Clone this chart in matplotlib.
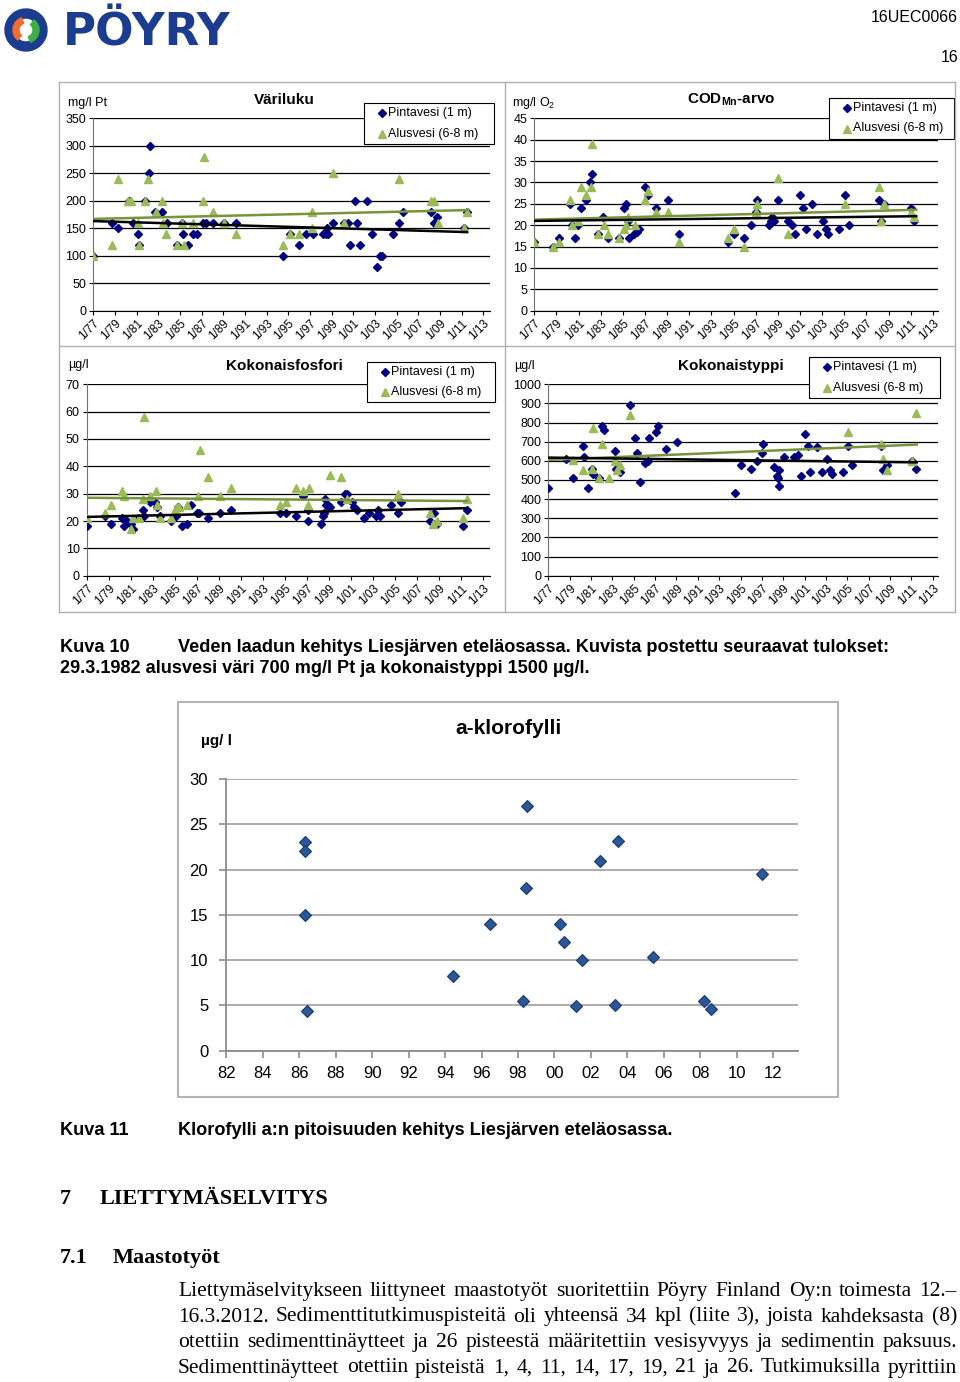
import numpy as np
import matplotlib
matplotlib.use('Agg')
import matplotlib.pyplot as plt
import matplotlib.font_manager as fm
from matplotlib.lines import Line2D
from matplotlib.patches import Wedge, Rectangle

W, H = 960, 1382

# ---------------- data ----------------
# Väriluku (mg/l Pt)
vari_pinta_x = [1977.0, 1978.69, 1979.31, 1980.29, 1980.69, 1981.09, 1981.25, 1981.77, 1982.17, 1982.23,
                1982.69, 1983.31, 1983.77, 1984.69, 1985.15, 1985.25, 1985.71, 1986.17, 1986.54, 1987.15,
                1987.37, 1988.08, 1989.09, 1990.14, 1994.54, 1995.15, 1996.02, 1996.63, 1997.25, 1998.23,
                1998.45, 1998.54, 1998.69, 1999.09, 2000.14, 2000.54, 2000.69, 2001.15, 2001.37, 2001.62,
                2002.23, 2002.69, 2003.22, 2003.46, 2003.68, 2004.69, 2005.22, 2005.62, 2008.17, 2008.45,
                2008.78, 2011.22, 2011.52]
vari_pinta_y = [100, 160, 150, 200, 160, 140, 120, 200, 250, 300,
                180, 180, 160, 120, 160, 140, 120, 140, 140, 160,
                160, 160, 160, 160, 100, 140, 120, 140, 140, 140,
                140, 150, 140, 160, 160, 160, 120, 200, 160, 120,
                200, 140, 80, 100, 100, 140, 160, 180, 180, 160,
                170, 150, 180]
vari_alus_x = [1977.0, 1978.69, 1979.31, 1980.23, 1980.46, 1981.09, 1981.25, 1981.77, 1982.08, 1982.78,
               1983.31, 1983.4, 1983.71, 1984.69, 1985.15, 1985.37, 1986.17, 1987.15, 1987.22, 1988.08,
               1989.09, 1990.14, 1994.54, 1995.15, 1996.02, 1997.15, 1997.22, 1999.09, 2000.14, 2005.22,
               2008.17, 2008.45, 2008.83, 2011.22, 2011.52]
vari_alus_y = [100, 120, 240, 200, 200, 160, 120, 200, 240, 180,
               200, 160, 140, 120, 160, 120, 160, 200, 280, 180,
               160, 140, 120, 140, 140, 150, 180, 250, 160, 240,
               200, 200, 160, 150, 180]
vari_trend_pinta = [163, 143]
vari_trend_alus = [167, 183]

# CODMn-arvo (mg/l O2)
cod_pinta_x = [1977.0, 1978.66, 1979.23, 1980.25, 1980.43, 1980.67, 1980.98, 1981.22, 1981.67, 1982.03,
               1982.24, 1982.72, 1983.23, 1983.69, 1984.65, 1985.07, 1985.25, 1985.43, 1985.58, 1986.04,
               1986.25, 1986.49, 1987.03, 1987.24, 1987.99, 1989.05, 1990.04, 1994.47, 1995.07, 1995.92,
               1996.55, 1997.0, 1997.09, 1998.2, 1998.36, 1998.45, 1998.63, 1999.05, 1999.95, 2000.25,
               2000.55, 2001.0, 2001.25, 2001.52, 2002.12, 2002.51, 2003.11, 2003.36, 2003.51, 2004.56,
               2005.1, 2005.46, 2008.11, 2008.33, 2008.63, 2011.0, 2011.33]
cod_pinta_y = [16, 15, 17, 25, 20, 17, 20, 24, 26, 30,
               32, 18, 22, 17, 17, 24, 25, 21, 17, 18,
               18.5, 19, 29, 27, 24, 26, 18, 16, 18, 17,
               20, 23, 26, 20, 21, 22, 21, 26, 21, 20,
               18, 27, 24, 19, 25, 18, 21, 19, 18, 19,
               27, 20, 26, 21, 25, 24, 21]
cod_alus_x = [1977.0, 1978.66, 1979.23, 1980.25, 1980.43, 1980.98, 1981.22, 1981.67, 1982.09, 1982.24,
              1982.72, 1983.29, 1983.69, 1984.65, 1985.1, 1985.25, 1985.43, 1986.1, 1987.03, 1987.24,
              1987.99, 1989.11, 1990.04, 1994.47, 1995.07, 1995.92, 1997.0, 1997.09, 1999.05, 1999.95,
              2005.1, 2008.11, 2008.33, 2008.63, 2011.0, 2011.33]
cod_alus_y = [16, 15, 16, 26, 20, 21, 29, 27, 29, 39,
              18, 20, 18, 17, 19, 20, 22, 20, 26, 28,
              23, 23, 16, 17, 19, 15, 23, 25, 31, 18,
              25, 29, 21, 25, 23, 22]
cod_trend_pinta = [21.0, 22.1]
cod_trend_alus = [21.3, 23.6]

# Kokonaisfosfori (µg/l)
p_pinta_x = [1977.0, 1978.66, 1979.21, 1980.18, 1980.39, 1980.69, 1980.99, 1981.23, 1981.69, 1982.08,
             1982.2, 1982.75, 1983.2, 1983.35, 1983.65, 1984.65, 1985.11, 1985.32, 1985.62, 1986.07,
             1986.47, 1986.98, 1987.22, 1988.04, 1989.1, 1990.1, 1994.54, 1995.09, 1995.97, 1996.63,
             1997.05, 1997.11, 1998.23, 1998.42, 1998.57, 1998.63, 1998.69, 1998.93, 1999.08, 2000.08,
             2000.44, 2000.65, 2001.05, 2001.26, 2001.5, 2002.17, 2002.65, 2003.26, 2003.41, 2003.62,
             2004.62, 2005.22, 2005.52, 2008.16, 2008.52, 2008.76, 2011.18, 2011.48]
p_pinta_y = [18, 22, 19, 21, 18, 20, 19, 17, 21, 24,
             22, 27, 27, 25, 22, 20, 22, 25, 18, 19,
             26, 23, 23, 21, 23, 24, 23, 23, 22, 29,
             20, 24, 19, 22, 23, 28, 26, 26, 25, 27,
             30, 30, 27, 25, 24, 21, 23, 22, 24, 22,
             26, 23, 27, 20, 23, 19, 18, 24]
p_alus_x = [1977.0, 1978.66, 1979.21, 1980.24, 1980.42, 1981.02, 1981.23, 1981.75, 1982.08, 1982.2,
            1982.75, 1983.26, 1983.35, 1983.65, 1984.65, 1985.02, 1985.17, 1985.41, 1986.07, 1987.08,
            1987.29, 1988.04, 1989.1, 1990.1, 1994.54, 1995.09, 1995.97, 1996.6, 1997.05, 1997.14,
            1999.08, 2000.08, 2000.65, 2005.22, 2008.16, 2008.46, 2008.76, 2011.18, 2011.48]
p_alus_y = [21, 23, 26, 31, 29, 17, 21, 21, 28, 58,
            29, 31, 26, 21, 21, 24, 25, 25, 26, 29,
            46, 36, 29, 32, 26, 27, 32, 31, 26, 32,
            37, 36, 28, 30, 23, 19, 20, 21, 28]
p_trend_pinta = [21.5, 24.7]
p_trend_alus = [28.5, 27.3]

# Kokonaistyppi (µg/l)
n_pinta_x = [1977.0, 1978.65, 1979.28, 1980.28, 1980.37, 1980.68, 1981.06, 1981.21, 1981.75, 1982.06,
             1982.21, 1983.28, 1983.34, 1983.71, 1984.65, 1985.12, 1985.27, 1985.59, 1986.05, 1986.37,
             1986.43, 1987.05, 1987.24, 1988.02, 1989.08, 1994.48, 1995.05, 1995.98, 1996.58, 1996.98,
             1997.07, 1998.1, 1998.39, 1998.48, 1998.6, 1998.64, 1999.04, 2000.01, 2000.42, 2000.63,
             2001.04, 2001.32, 2001.51, 2002.2, 2002.6, 2003.07, 2003.38, 2003.54, 2004.57, 2005.1,
             2005.47, 2008.13, 2008.31, 2008.69, 2011.09, 2011.41]
n_pinta_y = [460, 610, 510, 680, 620, 460, 560, 530, 510, 780,
             760, 650, 560, 540, 890, 720, 640, 490, 590, 600,
             720, 750, 780, 660, 700, 430, 580, 560, 600, 640,
             690, 570, 520, 510, 550, 470, 620, 620, 630, 520,
             740, 680, 540, 670, 540, 610, 550, 530, 540, 680,
             580, 680, 550, 580, 600, 560]
n_alus_x = [1979.28, 1980.28, 1981.06, 1981.21, 1981.75, 1982.06, 1982.71, 1983.28, 1983.41, 1983.71,
            1984.65, 2005.1, 2008.13, 2008.31, 2008.69, 2011.09, 2011.41]
n_alus_y = [605, 550, 560, 770, 510, 690, 510, 600, 550, 580,
            840, 750, 690, 610, 550, 600, 850]
n_trend_pinta = [617, 592]
n_trend_alus = [605, 685]

trend_years = [1977.0, 2011.5]

# a-klorofylli (µg/l)
chl_x = [1986.34, 1986.34, 1986.34, 1986.45, 1994.44, 1996.49, 1998.29, 1998.43, 1998.52, 2000.3,
         2000.5, 2001.2, 2001.5, 2002.5, 2003.3, 2003.5, 2005.4, 2008.2, 2008.6, 2011.4]
chl_y = [23.0, 22.0, 15.0, 4.4, 8.3, 14.0, 5.5, 18.0, 27.0, 14.0,
         12.0, 4.9, 10.0, 21.0, 5.1, 23.2, 10.4, 5.5, 4.6, 19.5]

legend_labels = ['Pintavesi (1 m)', 'Alusvesi (6-8 m)']

# ---------------- style ----------------
plt.rcParams['font.family'] = ['Liberation Sans', 'DejaVu Sans']
plt.rcParams['mathtext.fontset'] = 'custom'
plt.rcParams['mathtext.rm'] = 'Liberation Sans'
plt.rcParams['mathtext.bf'] = 'Liberation Sans:bold'

names = {f.name for f in fm.fontManager.ttflist}
NARROW = 'Liberation Sans Narrow' if 'Liberation Sans Narrow' in names else 'Liberation Sans'
CAP_SIZE = 14 if NARROW != 'Liberation Sans' else 13.1

NAVY = '#000080'
GREEN = '#9BBB59'
GREEN_LINE = '#77933C'

fig = plt.figure(figsize=(W / 100, H / 100), dpi=100)


def fx(x):
    return x / W


def fy(y):
    return 1 - y / H


def px_axes(left, top, right, bottom):
    return fig.add_axes([fx(left), fy(bottom), (right - left) / W, (bottom - top) / H])


def hline(x0, x1, y, color='#b0b0b0', lw=1.0):
    fig.add_artist(Line2D([fx(x0), fx(x1)], [fy(y), fy(y)], color=color, lw=lw))


def vline(x, y0, y1, color='#b0b0b0', lw=1.0):
    fig.add_artist(Line2D([fx(x), fx(x)], [fy(y0), fy(y1)], color=color, lw=lw))


def legend_box(x0, y0, x1, y1):
    # frame, then one row per series: marker and label
    fig.add_artist(Rectangle((fx(x0), fy(y1)), (x1 - x0) / W, (y1 - y0) / H,
                             transform=fig.transFigure, facecolor='white', edgecolor='black', lw=0.8))
    rows = [(y0 + 10, 'D', 3.6, NAVY), (y0 + 30.5, '^', 5.3, GREEN)]
    for (ry, m, ms, c), label in zip(rows, legend_labels):
        fig.add_artist(Line2D([fx(x0 + 17.5)], [fy(ry)], ls='none', marker=m, ms=ms, color=c))
        fig.text(fx(x0 + 24), fy(ry), label, fontsize=9, va='center', ha='left')


def small_chart(box, xmax, ymax, ystep, px, py, ax_, ay, tp, ta, unit, unit_xy, title, title_xy, leg):
    ax = px_axes(*box)
    ax.set_xlim(1977, xmax)
    ax.set_ylim(0, ymax)
    ax.set_yticks(np.arange(0, ymax + ystep / 2, ystep))
    ax.yaxis.grid(True, color='black', lw=0.9)
    ax.set_axisbelow(True)
    years = list(range(1977, 2014, 2))
    ax.set_xticks(years)
    ax.set_xticklabels([f'1/{y % 100:02d}' for y in years], rotation=45, ha='right', va='top',
                       rotation_mode='anchor', fontsize=8.5)
    ax.tick_params(axis='y', labelsize=9, length=3, pad=2)
    ax.tick_params(axis='x', length=3, pad=2)
    for s in ['top', 'right']:
        ax.spines[s].set_visible(False)
    ax.spines['left'].set_color('#707070')
    ax.spines['bottom'].set_color('black')

    ax.plot(px, py, ls='none', marker='D', ms=3.7, color=NAVY, mec=NAVY, zorder=3)
    ax.plot(ax_, ay, ls='none', marker='^', ms=5.3, color=GREEN, mec=GREEN, zorder=4)
    ax.plot(trend_years, ta, color=GREEN_LINE, lw=1.8, zorder=5)
    ax.plot(trend_years, tp, color='black', lw=1.8, zorder=5)

    fig.text(fx(unit_xy[0]), fy(unit_xy[1]), unit, fontsize=9, va='center', ha='left')
    fig.text(fx(title_xy[0]), fy(title_xy[1]), title, fontsize=11, fontweight='bold', va='center', ha='center')
    legend_box(*leg)
    return ax


# ---------------- header ----------------
lax = px_axes(0, 4, 52, 56)
lax.set_xlim(0, 52)
lax.set_ylim(0, 52)
lax.axis('off')
lax.add_patch(Wedge((26, 26), 21, 35, 215, width=9, color='#1B3C8F'))
lax.add_patch(Wedge((26, 26), 21, 215, 395, width=9, color='#1B3C8F'))
lax.add_patch(Wedge((26, 26), 13, 110, 230, width=6, color='#F26B2F'))
lax.add_patch(Wedge((26, 26), 13, 290, 410, width=6, color='#3FAE49'))

fig.text(fx(63), fy(45), 'PÖYRY', fontsize=32.5, fontweight='bold', color='#1B3C8F',
         family='DejaVu Sans', va='baseline', ha='left')
fig.text(fx(958), fy(18), '16UEC0066', fontsize=11.5, va='center', ha='right')
fig.text(fx(958), fy(57), '16', fontsize=11.5, va='center', ha='right')

# ---------------- panel frames ----------------
hline(59, 955, 82)
hline(59, 955, 346)
hline(59, 955, 612)
vline(59, 82, 612)
vline(505, 82, 612)
vline(955, 82, 612)

# ---------------- four small charts ----------------
small_chart((93.3, 118.3, 490, 310.7), 2013.63, 350, 50, vari_pinta_x, vari_pinta_y,
            vari_alus_x, vari_alus_y, vari_trend_pinta, vari_trend_alus,
            'mg/l Pt', (68, 103), 'Väriluku', (284, 100), (364, 103, 494, 144))
small_chart((534.3, 118.3, 937.7, 310.7), 2013.44, 45, 5, cod_pinta_x, cod_pinta_y,
            cod_alus_x, cod_alus_y, cod_trend_pinta, cod_trend_alus,
            r'mg/l O$_{\mathrm{2}}$', (512, 103), r'COD$_{\mathbf{Mn}}$-arvo', (731, 100), (829, 98, 954, 139))
small_chart((86.7, 384.3, 490, 575.7), 2013.6, 70, 10, p_pinta_x, p_pinta_y,
            p_alus_x, p_alus_y, p_trend_pinta, p_trend_alus,
            'µg/l', (68, 365), 'Kokonaisfosfori', (284, 366), (367, 362, 495, 402))
small_chart((548.3, 384.3, 937.7, 575.7), 2013.46, 1000, 100, n_pinta_x, n_pinta_y,
            n_alus_x, n_alus_y, n_trend_pinta, n_trend_alus,
            'µg/l', (514, 366), 'Kokonaistyppi', (731, 366), (809, 357, 940, 398))

# ---------------- caption 10 ----------------
fig.text(fx(60), fy(652), 'Kuva 10', family=NARROW, fontweight='bold', fontsize=CAP_SIZE, va='baseline')
fig.text(fx(178), fy(652), 'Veden laadun kehitys Liesjärven eteläosassa. Kuvista postettu seuraavat tulokset:',
         family=NARROW, fontweight='bold', fontsize=CAP_SIZE, va='baseline')
fig.text(fx(60), fy(673), '29.3.1982 alusvesi väri 700 mg/l Pt ja kokonaistyppi 1500 µg/l.',
         family=NARROW, fontweight='bold', fontsize=CAP_SIZE, va='baseline')

# ---------------- a-klorofylli chart ----------------
fig.add_artist(Rectangle((fx(178), fy(1097)), (838 - 178) / W, (1097 - 702) / H,
                         transform=fig.transFigure, fill=False, edgecolor='#b4b4b4', lw=1.5))
cax = px_axes(226.3, 779, 798, 1050.7)
cax.set_xlim(1982, 2013.36)
cax.set_ylim(0, 30)
cyears = list(range(1982, 2013, 2))
cax.set_xticks(cyears)
cax.set_xticklabels([f'{y % 100:02d}' for y in cyears])
cax.set_yticks(range(0, 31, 5))
cax.yaxis.grid(True, color='#a6a6a6', lw=1.3)
cax.set_axisbelow(True)
cax.tick_params(axis='both', labelsize=12, color='#8c8c8c', length=5, width=1.2)
cax.tick_params(axis='x', pad=6)
cax.tick_params(axis='y', pad=8)
for s in ['top', 'right']:
    cax.spines[s].set_visible(False)
for s in ['left', 'bottom']:
    cax.spines[s].set_color('#8c8c8c')
    cax.spines[s].set_linewidth(1.3)
cax.plot(chl_x, chl_y, ls='none', marker='D', ms=6.2, color='#2B5797', mec='#1A3A6B', mew=0.8, zorder=3)
fig.text(fx(201), fy(741), 'µg/ l', fontsize=11, fontweight='bold', va='center', ha='left')
fig.text(fx(508), fy(729), 'a-klorofylli', fontsize=15, fontweight='bold', va='center', ha='center')

# ---------------- caption 11 and text ----------------
fig.text(fx(60), fy(1135), 'Kuva 11', family=NARROW, fontweight='bold', fontsize=CAP_SIZE, va='baseline')
fig.text(fx(178), fy(1135), 'Klorofylli a:n pitoisuuden kehitys Liesjärven eteläosassa.',
         family=NARROW, fontweight='bold', fontsize=CAP_SIZE, va='baseline')

fig.text(fx(60), fy(1204), '7', family='Liberation Serif', fontweight='bold', fontsize=16, va='baseline')
fig.text(fx(100), fy(1204), 'LIETTYMÄSELVITYS', family='Liberation Serif', fontweight='bold',
         fontsize=16, va='baseline')
fig.text(fx(60), fy(1263), '7.1', family='Liberation Serif', fontweight='bold', fontsize=16, va='baseline')
fig.text(fx(113), fy(1263), 'Maastotyöt', family='Liberation Serif', fontweight='bold',
         fontsize=16, va='baseline')

body = ['Liettymäselvitykseen liittyneet maastotyöt suoritettiin Pöyry Finland Oy:n toimesta 12.–',
        '16.3.2012. Sedimenttitutkimuspisteitä oli yhteensä 34 kpl (liite 3), joista kahdeksasta (8)',
        'otettiin sedimenttinäytteet ja 26 pisteestä määritettiin vesisyvyys ja sedimentin paksuus.',
        'Sedimenttinäytteet otettiin pisteistä 1, 4, 11, 14, 17, 19, 21 ja 26. Tutkimuksilla pyrittiin']

renderer = fig.canvas.get_renderer()
for i, line in enumerate(body):
    words = line.split(' ')
    y = 1296 + i * 25.5
    texts = [fig.text(0, fy(y), w, family='Liberation Serif', fontsize=15.5, va='baseline') for w in words]
    widths = [t.get_window_extent(renderer).width for t in texts]
    gap = (957 - 178 - sum(widths)) / (len(words) - 1)
    x = 178
    for t, w in zip(texts, widths):
        t.set_x(fx(x))
        x += w + gap

fig.savefig('out.png', dpi=100)
